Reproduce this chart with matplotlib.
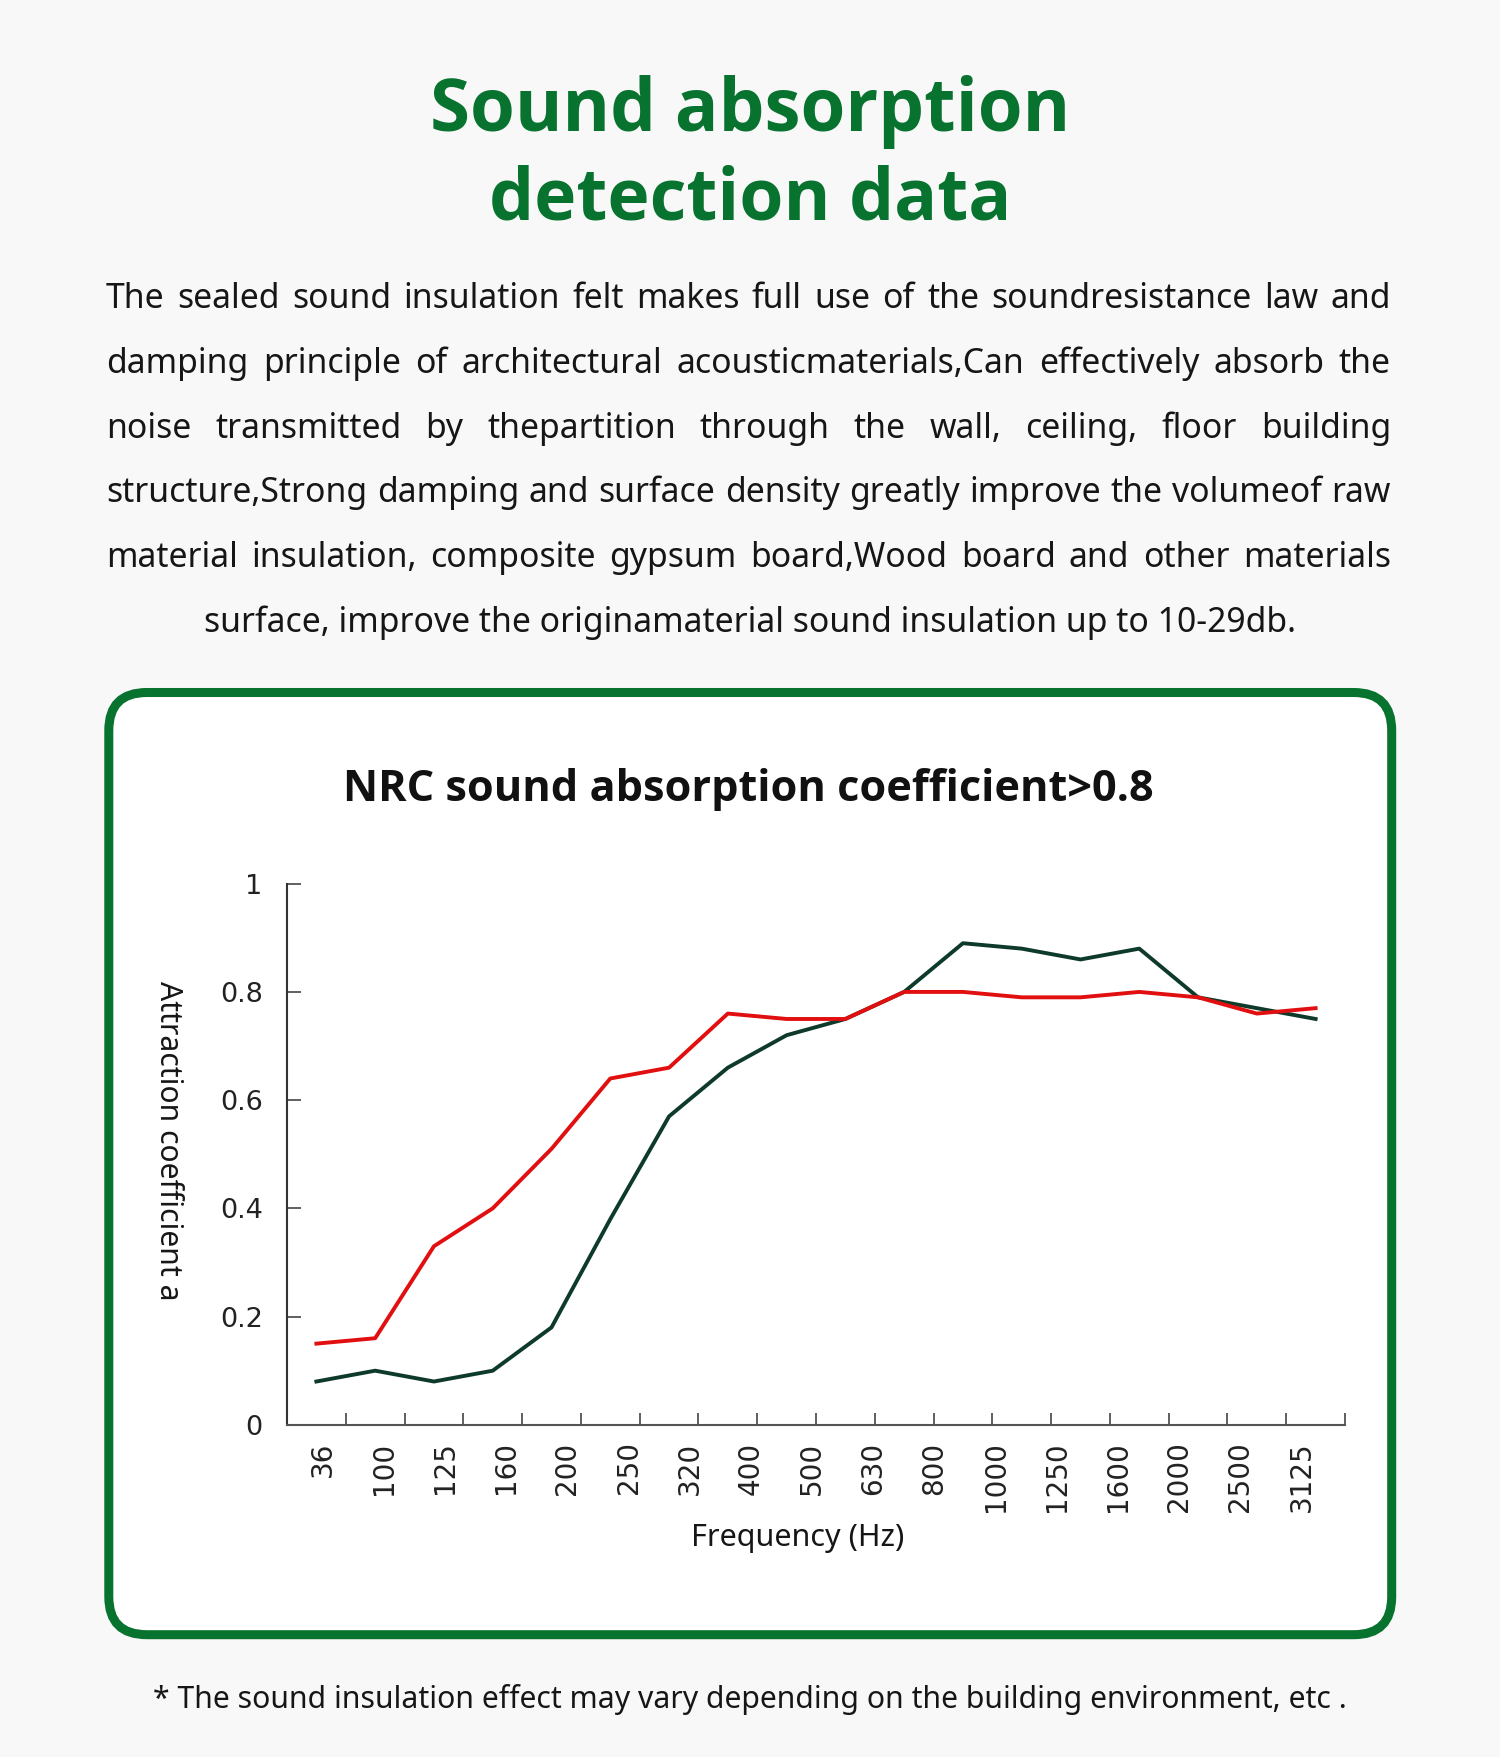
import numpy as np
import matplotlib
matplotlib.use("Agg")
import matplotlib.pyplot as plt
from matplotlib import font_manager as fm
from matplotlib.patches import FancyBboxPatch

# ---- data
freq_labels = ['36', '100', '125', '160', '200', '250', '320', '400', '500',
               '630', '800', '1000', '1250', '1600', '2000', '2500', '3125']
red_vals = [0.15, 0.16, 0.33, 0.40, 0.51, 0.64, 0.66, 0.76, 0.75,
            0.75, 0.80, 0.80, 0.79, 0.79, 0.80, 0.79, 0.76, 0.77]
green_vals = [0.08, 0.10, 0.08, 0.10, 0.18, 0.38, 0.57, 0.66, 0.72,
              0.75, 0.80, 0.89, 0.88, 0.86, 0.88, 0.79, 0.77, 0.75]
y_ticks = [0, 0.2, 0.4, 0.6, 0.8, 1]
y_tick_labels = ['0', '0.2', '0.4', '0.6', '0.8', '1']

title_lines = ['Sound absorption', 'detection data']
para_lines = [
    "The sealed sound insulation felt makes full use of the soundresistance law and",
    "damping principle of architectural acousticmaterials,Can effectively absorb the",
    "noise transmitted by thepartition through the wall, ceiling, floor building",
    "structure,Strong damping and surface density greatly improve the volumeof raw",
    "material insulation, composite gypsum board,Wood board and other materials",
    "surface, improve the originamaterial sound insulation up to 10-29db.",
]
chart_title = 'NRC sound absorption coefficient>0.8'
y_label = 'Attraction coefficient a'
x_label = 'Frequency (Hz)'
footer = '* The sound insulation effect may vary depending on the building environment, etc .'

# ---- colours / fonts
GREEN = '#08722f'
TXT = '#161616'
FONT = 'Noto Sans'


def pick_bold(names):
    # first family in the list that really has a bold face installed
    for n in names:
        for f in fm.fontManager.ttflist:
            w = f.weight if isinstance(f.weight, int) else fm.weight_dict.get(f.weight, 400)
            if f.name == n and w >= 700:
                return n
    return 'DejaVu Sans'


BOLD = pick_bold(['Noto Sans', 'Open Sans', 'Roboto', 'Lato', 'Inter'])

W, H = 1500, 1757
fig = plt.figure(figsize=(W / 100, H / 100), dpi=100, facecolor='#f8f8f8')
bg = fig.add_axes([0, 0, 1, 1], zorder=0)
bg.set_xlim(0, W)
bg.set_ylim(H, 0)
bg.axis('off')
renderer = fig.canvas.get_renderer()


def fit_text(x, y, s, size, vertical=False, **kw):
    # draw text and scale its font so its length is 'size' pixels
    t = bg.text(x, y, s, fontsize=20, **kw)
    bb = t.get_window_extent(renderer)
    cur = bb.height if vertical else bb.width
    t.set_fontsize(20 * size / cur)
    return t


# title
fit_text(750, 131, title_lines[0], 640, ha='center', va='baseline',
         family=BOLD, weight='bold', color=GREEN)
fit_text(750, 220, title_lines[1], 522, ha='center', va='baseline',
         family=BOLD, weight='bold', color=GREEN)

# paragraph, justified
x0, x1 = 106, 1391
base_y = 308
step = 64.8
widths = []
for line in para_lines[:-1]:
    t = bg.text(0, 0, line, fontsize=20, family=FONT)
    widths.append(t.get_window_extent(renderer).width)
    t.remove()
fs = 20 * (x1 - x0) / max(widths) * 0.995

for i, line in enumerate(para_lines):
    y = base_y + i * step
    if i == len(para_lines) - 1:
        bg.text(750, y, line, fontsize=fs, family=FONT, color=TXT,
                ha='center', va='baseline')
        continue
    words = line.split(' ')
    ts = [bg.text(0, y, w, fontsize=fs, family=FONT, color=TXT, va='baseline')
          for w in words]
    ws = [t.get_window_extent(renderer).width for t in ts]
    gap = (x1 - x0 - sum(ws)) / (len(ws) - 1)
    xx = x0
    for t, w in zip(ts, ws):
        t.set_x(xx)
        xx += w + gap

# green rounded box
box = FancyBboxPatch((108.8, 692.5), 1391.7 - 108.8, 1634.7 - 692.5,
                     boxstyle='round,pad=0,rounding_size=38',
                     facecolor='white', edgecolor=GREEN, linewidth=6.5)
bg.add_patch(box)

# chart title, axis labels, footer
fit_text(748, 801, chart_title, 809, ha='center', va='baseline',
         family=BOLD, weight='bold', color='#111111')
fit_text(168, 1141, y_label, 319, vertical=True, rotation=270,
         ha='center', va='center', family=FONT, color=TXT)
fit_text(798, 1546, x_label, 213, ha='center', va='baseline',
         family=FONT, color=TXT)
fit_text(750, 1708, footer, 1193, ha='center', va='baseline',
         family=FONT, color=TXT)

# ---- the chart
ax = fig.add_axes([287 / W, 1 - 1424.8 / H, (1345 - 287) / W, (1424.8 - 883.7) / H],
                  zorder=1)
ax.patch.set_alpha(0)
x = np.arange(len(red_vals))
ax.plot(x, green_vals, color='#0e3a2a', lw=2.8, zorder=2)
ax.plot(x, red_vals, color='#e10f0f', lw=2.8, zorder=3)
ax.set_xlim(-0.5, len(red_vals) - 0.5)
ax.set_ylim(0, 1)

for s in ['top', 'right']:
    ax.spines[s].set_visible(False)
ax.spines['left'].set_color('#333333')
ax.spines['bottom'].set_color('#555555')
ax.spines['left'].set_linewidth(1.5)
ax.spines['bottom'].set_linewidth(1.5)

label_pos = 0.107 + np.arange(len(freq_labels)) * 1.041
ax.set_xticks(label_pos, freq_labels, rotation=90, fontsize=20,
              family='DejaVu Sans', color='#222222')
ax.tick_params(axis='x', which='major', length=0, pad=12)
ax.set_xticks(np.arange(0.5, len(red_vals), 1), minor=True)
ax.tick_params(axis='x', which='minor', direction='in', length=8.6,
               width=1.2, color='#444444')

ax.set_yticks(y_ticks, y_tick_labels, fontsize=19.5, family='DejaVu Sans',
              color='#222222')
ax.tick_params(axis='y', direction='in', length=10, width=1.2,
               color='#444444', pad=17.5)

fig.savefig('out.png', dpi=100, facecolor=fig.get_facecolor())
